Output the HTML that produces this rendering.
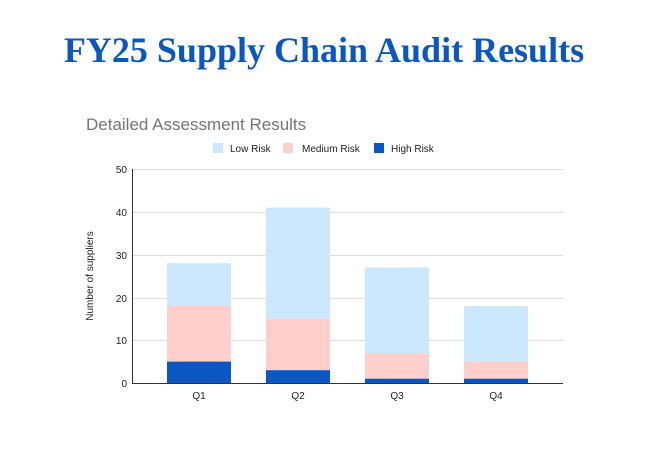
<!DOCTYPE html>
<html><head><meta charset="utf-8"><style>
body{margin:0;background:#fff;width:648px;height:461px;overflow:hidden}
</style></head><body>
<svg width="648" height="461" xmlns="http://www.w3.org/2000/svg">
<text x="324" y="62" text-anchor="middle" font-family="Liberation Serif, serif" font-weight="bold" font-size="36" fill="#0b57c2">FY25 Supply Chain Audit Results</text>
<text x="86" y="130" font-family="Liberation Sans, sans-serif" font-size="17" fill="#757575">Detailed Assessment Results</text>
<g font-family="Liberation Sans, sans-serif" font-size="10" fill="#222">
<rect x="213" y="143" width="10" height="10" fill="#cce8ff"/><text x="230" y="152">Low Risk</text>
<rect x="283" y="143" width="10" height="10" fill="#ffd0cb"/><text x="302" y="152">Medium Risk</text>
<rect x="374" y="143" width="10" height="10" fill="#0b57c2"/><text x="391" y="152">High Risk</text>
</g>
<g stroke="#ddd" stroke-width="1">
<line x1="133" x2="563" y1="169.5" y2="169.5"/><line x1="133" x2="563" y1="212.5" y2="212.5"/>
<line x1="133" x2="563" y1="255.5" y2="255.5"/><line x1="133" x2="563" y1="298.5" y2="298.5"/>
<line x1="133" x2="563" y1="340.5" y2="340.5"/>
</g>
<g font-family="Liberation Sans, sans-serif" font-size="10" fill="#222" text-anchor="end">
<text x="127" y="173">50</text><text x="127" y="216">40</text><text x="127" y="259">30</text>
<text x="127" y="302">20</text><text x="127" y="344">10</text><text x="127" y="387">0</text>
</g>
<text transform="translate(93,276) rotate(-90)" text-anchor="middle" font-family="Liberation Sans, sans-serif" font-size="10" fill="#222">Number of suppliers</text>
<g>
<rect x="167" y="263.2" width="64" height="42.8" fill="#cce8ff"/>
<rect x="167" y="306" width="64" height="55.6" fill="#ffd0cb"/>
<rect x="167" y="361.6" width="64" height="21.4" fill="#0b57c2"/>
<rect x="266" y="207.5" width="64" height="111.3" fill="#cce8ff"/>
<rect x="266" y="318.8" width="64" height="51.4" fill="#ffd0cb"/>
<rect x="266" y="370.2" width="64" height="12.8" fill="#0b57c2"/>
<rect x="365" y="267.4" width="64" height="85.6" fill="#cce8ff"/>
<rect x="365" y="353" width="64" height="25.7" fill="#ffd0cb"/>
<rect x="365" y="378.7" width="64" height="4.3" fill="#0b57c2"/>
<rect x="464" y="306" width="64" height="55.6" fill="#cce8ff"/>
<rect x="464" y="361.6" width="64" height="17.1" fill="#ffd0cb"/>
<rect x="464" y="378.7" width="64" height="4.3" fill="#0b57c2"/>
</g>
<line x1="132.5" x2="132.5" y1="169" y2="384" stroke="#333"/>
<line x1="132" x2="563" y1="383.5" y2="383.5" stroke="#333"/>
<g font-family="Liberation Sans, sans-serif" font-size="10" fill="#222" text-anchor="middle">
<text x="199" y="399">Q1</text><text x="298" y="399">Q2</text><text x="397" y="399">Q3</text><text x="496" y="399">Q4</text>
</g>
</svg>
</body></html>
